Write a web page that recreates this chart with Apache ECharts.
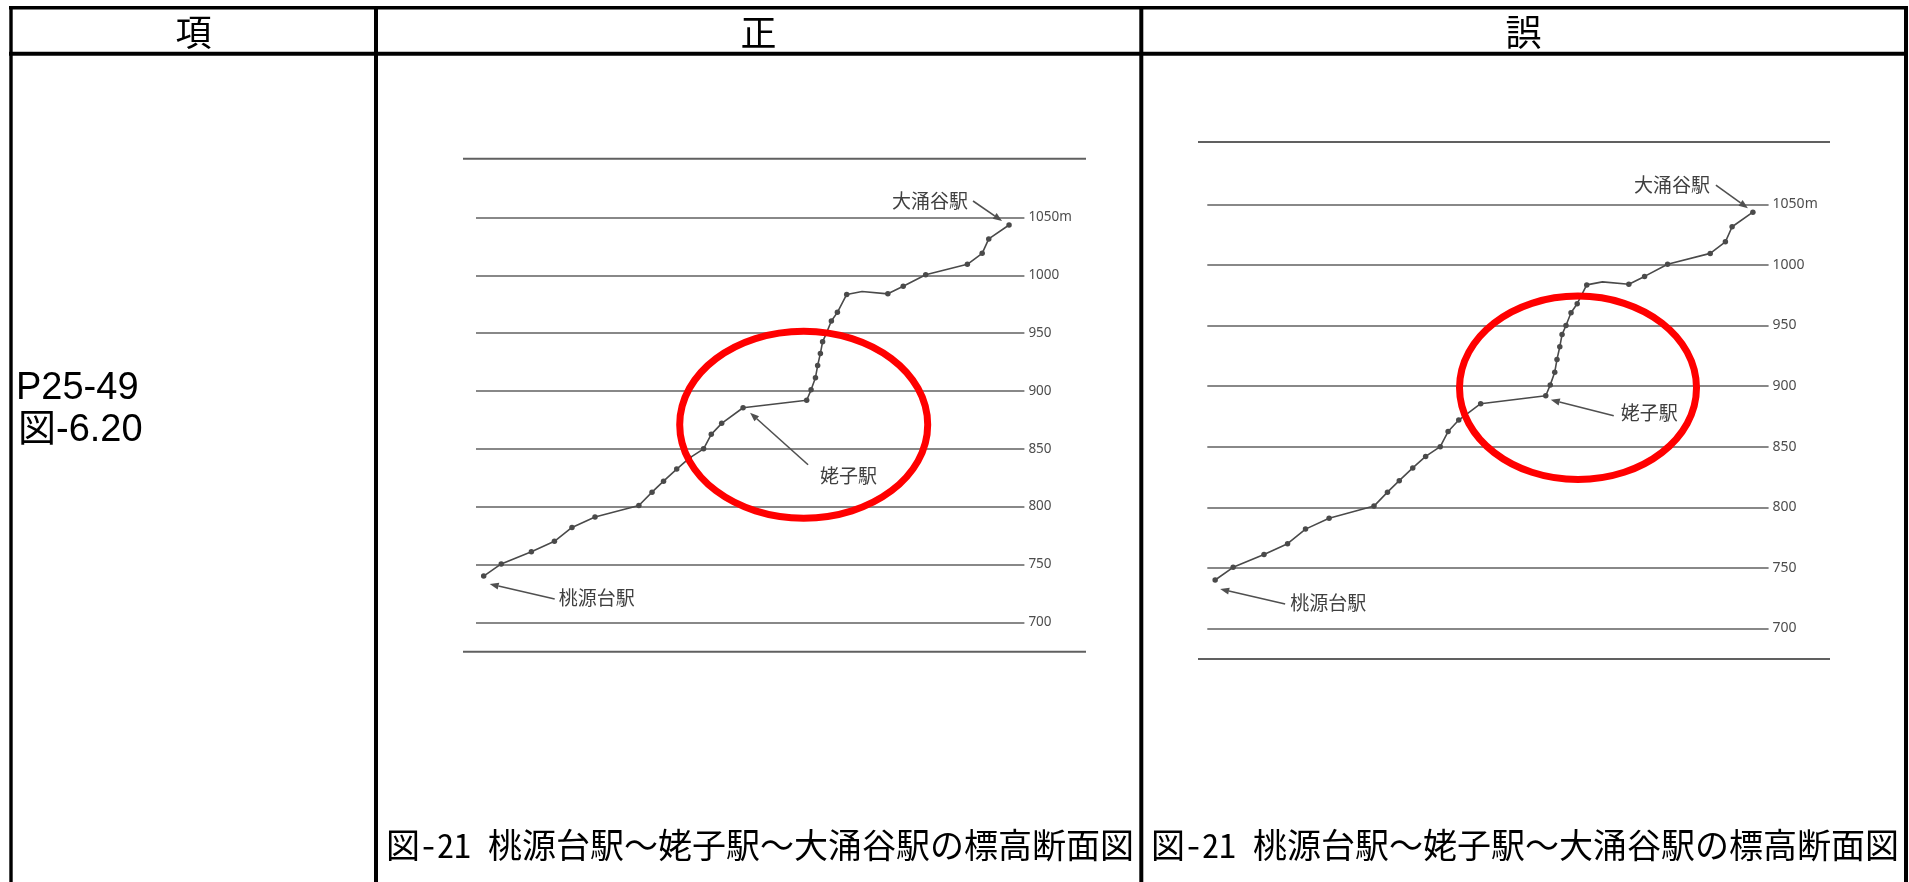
<!DOCTYPE html>
<html>
<head>
<meta charset="utf-8">
<script src="https://cdn.jsdelivr.net/npm/echarts/dist/echarts.min.js"></script>
<style>
html,body{margin:0;padding:0;background:#fff;}
#main{width:1909px;height:882px;}
</style>
</head>
<body>
<div id="main"></div>
<script>
// ---- data ----
const headerLabels = ['項', '正', '誤'];
const rowLabels = ['P25-49', '図-6.20'];
const captionText = '図-21 桃源台駅～姥子駅～大涌谷駅の標高断面図';
const stationNames = ['桃源台駅', '姥子駅', '大涌谷駅'];
// relative distance along the route (0-100) and elevation (m)
const distance = [1.4, 4.6, 10.1, 14.3, 17.5, 21.7, 29.7, 32.1, 34.2, 36.6, 38.9, 41.5, 42.9, 44.8, 48.7,
  60.3, 61.1, 61.9, 62.3, 62.8, 63.2, 63.9, 64.8, 65.9, 67.6, 70.4, 75.1, 77.9, 82.0, 89.6, 92.3, 93.5, 97.2];
const elevation = [740, 750.5, 761, 770, 782, 791, 801, 812.5, 822, 832.5, 842, 850, 862.5, 872, 885.5,
  892, 901, 911.5, 922, 932.5, 942.5, 950, 960.5, 968, 983.5, 986, 984, 990.5, 1000.5, 1009.5, 1019, 1031.5, 1043.5];
const elevationTicks = [700, 750, 800, 850, 900, 950, 1000, 1050];
const tickUnit = 'm';
const bendIndex = 25;              // vertex drawn without a dot
const stationIndexCorrect = [0, 14, 32];
const stationIndexWrong = [0, 15, 32];

// ---- layout ----
const panels = [
  { grid: {left: 476, top: 217.5, width: 548.4, height: 404.8},
    frame: {x1: 463, x2: 1086, top: 158.7, bottom: 651.7},
    labelSize: 13.5,
    ellipse: {cx: 803.7, cy: 424.7, rx: 124, ry: 93.5},
    stations: stationIndexCorrect,
    captionX: 386,
    ann: [
      {tip: [6, 8], tail: [71, 23], text: [4, -1], align: 'left'},
      {tip: [7, 5], tail: [65, 57], text: [12, 11], align: 'left'},
      {tip: [-7, -4], tail: [-36, -24], text: [-5, 0], align: 'right'}
    ] },
  { grid: {left: 1207.3, top: 204.3, width: 561.3, height: 424.2},
    frame: {x1: 1198, x2: 1830, top: 142, bottom: 659},
    labelSize: 14,
    ellipse: {cx: 1578, cy: 387.8, rx: 118.5, ry: 91.7},
    stations: stationIndexWrong,
    captionX: 1151,
    ann: [
      {tip: [5, 9], tail: [70, 24], text: [5, -1], align: 'left'},
      {tip: [5, 4], tail: [68, 20], text: [7, -3], align: 'left'},
      {tip: [-5, -4], tail: [-37, -27], text: [-6, 0], align: 'right'}
    ] }
];

const chart = echarts.init(document.getElementById('main'), null, {renderer: 'canvas'});
const seriesData = distance.map((d, i) => [d, elevation[i]]);
const lineColor = '#4a4a4a';

const option = {
  animation: false,
  backgroundColor: '#fff',
  grid: panels.map(p => Object.assign({}, p.grid)),
  xAxis: panels.map((p, i) => ({type: 'value', gridIndex: i, min: 0, max: 100, show: false})),
  yAxis: panels.map((p, i) => ({
    type: 'value', gridIndex: i, position: 'right',
    min: elevationTicks[0], max: elevationTicks[elevationTicks.length - 1],
    interval: elevationTicks[1] - elevationTicks[0],
    axisLine: {show: false}, axisTick: {show: false},
    splitLine: {show: true, lineStyle: {color: '#606060', width: 1.7}},
    axisLabel: {color: '#4d4d4d', fontSize: p.labelSize, margin: 4, fontFamily: 'Noto Sans',
      formatter: v => v === elevationTicks[elevationTicks.length - 1] ? v + tickUnit : String(v)}
  })),
  series: panels.map((p, i) => ({
    type: 'line', xAxisIndex: i, yAxisIndex: i, data: seriesData,
    symbol: 'circle',
    symbolSize: (v, params) => params.dataIndex === bendIndex ? 0 : 5.5,
    showSymbol: true,
    lineStyle: {color: lineColor, width: 1.6},
    itemStyle: {color: lineColor},
    silent: true, z: 3
  }))
};
chart.setOption(option);

// ---- decorations ----
const g = [];
const black = '#000';
function hline(x1, x2, y, w, c) { g.push({type: 'line', silent: true, z: 10, shape: {x1, y1: y, x2, y2: y}, style: {stroke: c, lineWidth: w}}); }
function vline(x, y1, y2, w, c) { g.push({type: 'line', silent: true, z: 10, shape: {x1: x, y1, x2: x, y2}, style: {stroke: c, lineWidth: w}}); }
function text(t, x, y, font, align, va, color) {
  g.push({type: 'text', silent: true, z: 12, style: {text: t, x, y, font, textAlign: align, textVerticalAlign: va, fill: color || '#000'}});
}
// table
hline(9, 1908, 7.7, 3.5, black);
hline(9, 1908, 53.7, 4, black);
vline(11, 6, 882, 3.4, black);
vline(376, 6, 882, 4, black);
vline(1141.3, 6, 882, 4, black);
vline(1906, 6, 882, 4, black);
const headerCenters = [193.5, 758.6, 1523.6];
const monoCJK = '"Noto Sans Mono CJK JP", "Noto Sans CJK JP"';
headerLabels.forEach((t, i) => text(t, headerCenters[i], 32, '36px ' + monoCJK, 'center', 'middle'));
text(rowLabels[0], 16, 389, '38px "Liberation Sans", "Noto Sans CJK JP"', 'left', 'middle');
text(rowLabels[1], 18, 431, '38px "Liberation Sans", "Noto Sans CJK JP"', 'left', 'middle');

panels.forEach((p, pi) => {
  text(captionText, p.captionX, 845, '34px ' + monoCJK, 'left', 'middle');
  const f = p.frame;
  hline(f.x1, f.x2, f.top, 2, '#606060');
  hline(f.x1, f.x2, f.bottom, 2, '#606060');
  p.stations.forEach((si, k) => {
    const pt = chart.convertToPixel({gridIndex: pi}, seriesData[si]);
    const a = p.ann[k];
    const tip = [pt[0] + a.tip[0], pt[1] + a.tip[1]];
    const tail = [pt[0] + a.tail[0], pt[1] + a.tail[1]];
    const dx = tip[0] - tail[0], dy = tip[1] - tail[1];
    const len = Math.hypot(dx, dy), ux = dx / len, uy = dy / len;
    const hl = 9, hw = 3.5;
    const base = [tip[0] - ux * hl, tip[1] - uy * hl];
    g.push({type: 'line', silent: true, z: 11, shape: {x1: tail[0], y1: tail[1], x2: base[0], y2: base[1]}, style: {stroke: '#505050', lineWidth: 1.6}});
    g.push({type: 'polygon', silent: true, z: 11, shape: {points: [tip, [base[0] - uy * hw, base[1] + ux * hw], [base[0] + uy * hw, base[1] - ux * hw]]}, style: {fill: '#505050'}});
    text(stationNames[k], tail[0] + a.text[0], tail[1] + a.text[1], '19px "Noto Sans CJK JP"', a.align, 'middle', '#404040');
  });
  const e = p.ellipse;
  g.push({type: 'ellipse', silent: true, z: 20, shape: {cx: e.cx, cy: e.cy, rx: e.rx, ry: e.ry}, style: {fill: 'none', stroke: '#ff0000', lineWidth: 7}});
});
chart.setOption({graphic: g});
</script>
</body>
</html>
